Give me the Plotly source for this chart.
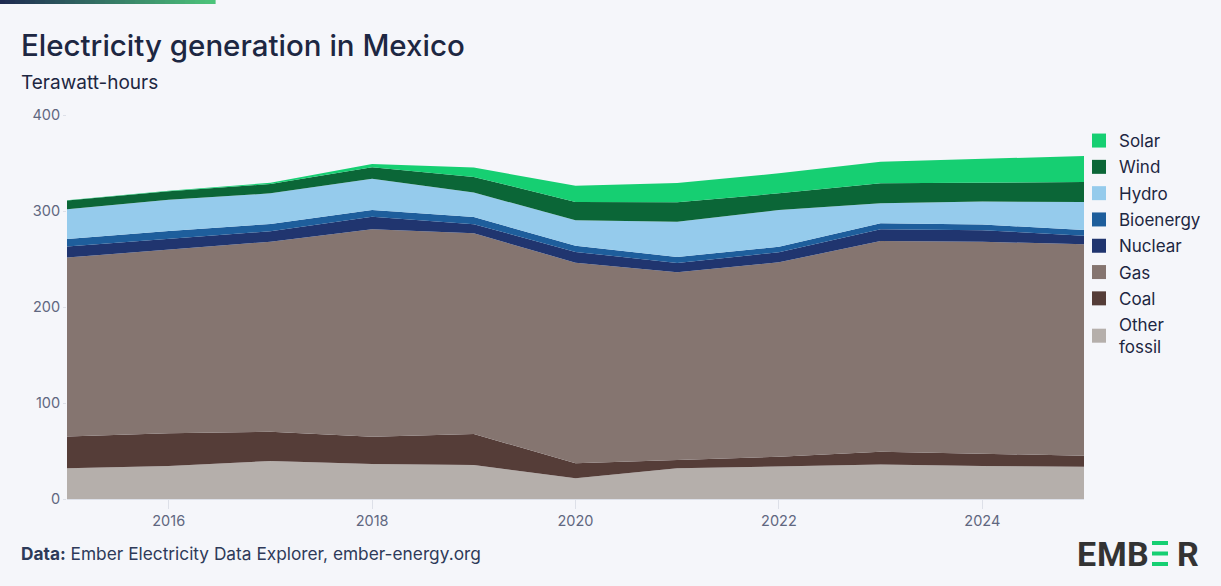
import plotly.graph_objects as go

years = [2015, 2016, 2017, 2018, 2019, 2020, 2021, 2022, 2023, 2024, 2025]
other_fossil = [32.0, 34.4, 39.6, 36.5, 35.4, 21.5, 32.0, 33.7, 36.0, 34.4, 33.7]
coal = [33.0, 34.0, 30.5, 28.4, 32.3, 15.7, 8.6, 10.3, 13.3, 12.5, 11.4]
gas = [186.5, 191.6, 197.9, 216.1, 209.0, 209.0, 195.5, 202.5, 219.5, 221.1, 220.2]
nuclear = [11.5, 11.2, 11.0, 13.0, 9.5, 11.2, 9.8, 10.5, 12.2, 12.0, 9.0]
bioenergy = [7.9, 8.0, 7.5, 7.0, 7.6, 6.3, 6.2, 5.8, 6.2, 5.9, 5.9]
hydro = [30.9, 32.5, 31.9, 32.6, 25.4, 26.7, 36.8, 38.2, 20.8, 23.9, 29.2]
wind = [9.1, 9.0, 9.6, 11.9, 16.3, 19.1, 20.1, 17.4, 20.8, 19.9, 20.8]
solar = [0.2, 0.5, 1.3, 3.5, 9.8, 16.7, 20.2, 20.8, 22.6, 25.0, 27.1]

series_names = ["Other<br>fossil", "Coal", "Gas", "Nuclear", "Bioenergy", "Hydro", "Wind", "Solar"]
series_values = [other_fossil, coal, gas, nuclear, bioenergy, hydro, wind, solar]
series_colors = ["#b5afab", "#553d38", "#857570", "#20356f", "#1e5e9c", "#95cbec", "#0b6637", "#16cf72"]

y_ticks = [0, 100, 200, 300, 400]
x_ticks = [2016, 2018, 2020, 2022, 2024]

W, H = 1221, 586
L, R, T, B = 67, 1084, 115, 499

def px(x):
    return (x - L) / (R - L)

def py(y):
    return (B - y) / (B - T)

fig = go.Figure()
for name, vals, col in zip(series_names, series_values, series_colors):
    fig.add_trace(go.Scatter(
        x=years, y=vals, name=name, stackgroup="one", mode="lines",
        line=dict(width=0, color=col), fillcolor=col, showlegend=False,
        hovertemplate="%{y:.1f} TWh<extra>" + name + "</extra>",
    ))
# legend entries, top to bottom: Solar ... Other fossil
for name, col in zip(series_names[::-1], series_colors[::-1]):
    fig.add_trace(go.Scatter(
        x=[None], y=[None], name=name, mode="markers",
        marker=dict(symbol="square", size=14, color=col), showlegend=True,
        legendgroup=name,
    ))

shapes = []
# gradient bar at top
n = 43
c0 = (30, 42, 80)
c1 = (76, 196, 122)
for i in range(n):
    t = i / (n - 1)
    c = tuple(int(round(c0[k] + (c1[k] - c0[k]) * t)) for k in range(3))
    shapes.append(dict(type="rect", xref="paper", yref="paper",
                       x0=px(215 * i / n), x1=px(215 * (i + 1) / n + 0.6),
                       y0=py(4), y1=py(0), line=dict(width=0),
                       fillcolor="rgb(%d,%d,%d)" % c, layer="above"))
# green bars of logo
for (a, b) in [(541, 545), (551.5, 555.5), (562, 566)]:
    shapes.append(dict(type="rect", xref="paper", yref="paper",
                       x0=px(1152), x1=px(1168), y0=py(b), y1=py(a),
                       line=dict(width=0), fillcolor="#16cf72"))

font_main = "Inter, Poppins, sans-serif"
annotations = [
    dict(text="Electricity generation in Mexico", x=px(19), y=py(25), xref="paper", yref="paper",
         xanchor="left", yanchor="top", showarrow=False,
         font=dict(family=font_main, size=29.5, color="#1d2742", weight=500)),
    dict(text="Terawatt-hours", x=px(19), y=py(69), xref="paper", yref="paper",
         xanchor="left", yanchor="top", showarrow=False,
         font=dict(family=font_main, size=19, color="#1d2742")),
    dict(text="<b>Data:</b> Ember Electricity Data Explorer, ember-energy.org", x=px(19), y=py(553),
         xref="paper", yref="paper", xanchor="left", yanchor="middle", showarrow=False,
         font=dict(family=font_main, size=17.3, color="#2e3a59")),
]
for letter, cx in [("E", 1086), ("M", 1112), ("B", 1137.5), ("R", 1188)]:
    annotations.append(dict(text="<b>" + letter + "</b>", x=px(cx), y=py(554), xref="paper", yref="paper",
                            xanchor="center", yanchor="middle", showarrow=False,
                            font=dict(family="Roboto, sans-serif", size=34, color="#333333")))

fig.update_layout(
    width=W, height=H,
    margin=dict(l=L, r=W - R, t=T, b=H - B),
    paper_bgcolor="#f5f6fa", plot_bgcolor="#f5f6fa",
    shapes=shapes, annotations=annotations,
    showlegend=True,
    legend=dict(x=px(1079), y=py(123), xanchor="left", yanchor="top",
                traceorder="grouped", tracegroupgap=1.2,
                font=dict(family=font_main, size=17, color="#1d2742"),
                bgcolor="rgba(0,0,0,0)", itemwidth=30),
    xaxis=dict(range=[2015, 2025], tickvals=x_ticks, ticktext=[str(v) for v in x_ticks],
               showgrid=False, zeroline=False, showline=True, linecolor="#dde0e8", linewidth=1,
               ticks="outside", ticklen=9, tickcolor="#dde0e8",
               tickfont=dict(family=font_main, size=14.5, color="#5f6780")),
    yaxis=dict(range=[0, 400], tickvals=y_ticks, showgrid=True, gridcolor="#dde0e8", gridwidth=1,
               zeroline=False, showline=False, ticks="outside", ticklen=3, tickcolor="#dde0e8",
               tickfont=dict(family=font_main, size=14.5, color="#5f6780")),
    hovermode="x unified",
)

fig.write_html("out.html")
